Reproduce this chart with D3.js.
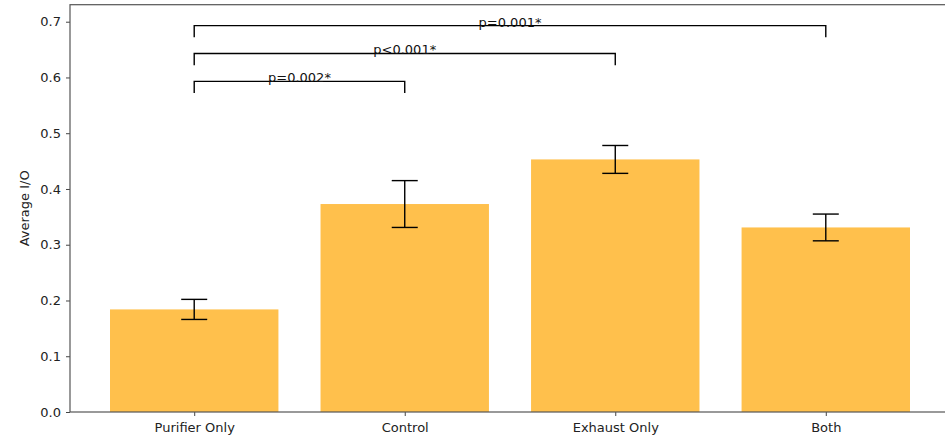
<!DOCTYPE html>
<html><head><meta charset="utf-8">
<script src="https://cdn.jsdelivr.net/npm/d3@7"></script>
<style>body{margin:0;background:#fff;overflow:hidden;} svg{display:block;font-family:"DejaVu Sans",sans-serif;}</style>
</head><body>
<svg id="c" width="945" height="436"></svg>
<script>
const categories = ["Purifier Only", "Control", "Exhaust Only", "Both"];
const means = [0.184, 0.373, 0.453, 0.331];
const errors = [0.018, 0.042, 0.025, 0.024];
const yTicks = [0.0, 0.1, 0.2, 0.3, 0.4, 0.5, 0.6, 0.7];
const comparisons = [
  {from: "Purifier Only", to: "Control", y: 0.593, label: "p=0.002*"},
  {from: "Purifier Only", to: "Exhaust Only", y: 0.643, label: "p<0.001*"},
  {from: "Purifier Only", to: "Both", y: 0.693, label: "p=0.001*"}
];
const bracketDrop = 0.021;

(function(){
const svg = d3.select("#c");
const mLeft = 70, mRight = 950, mTop = 4.7, mBottom = 412;

const x = d3.scaleLinear().domain([-0.59, 3.59]).range([mLeft, mRight]);
const y = d3.scaleLinear().domain([0, 0.7305]).range([mBottom, mTop]);
const barW = 0.8;
const idx = c => categories.indexOf(c);

svg.append("g").selectAll("rect").data(categories).join("rect")
  .attr("x", (d,i) => x(i - barW/2))
  .attr("width", (d,i) => x(i + barW/2) - x(i - barW/2))
  .attr("y", (d,i) => y(means[i]))
  .attr("height", (d,i) => y(0) - y(means[i]))
  .attr("fill", "#FFC04C");

const eg = svg.append("g").attr("stroke", "#000").attr("stroke-width", 1.4);
categories.forEach((c,i) => {
  const cx = x(i);
  eg.append("line").attr("x1", cx).attr("x2", cx).attr("y1", y(means[i]-errors[i])).attr("y2", y(means[i]+errors[i]));
  [means[i]-errors[i], means[i]+errors[i]].forEach(v => {
    eg.append("line").attr("x1", cx-13).attr("x2", cx+13).attr("y1", y(v)).attr("y2", y(v));
  });
});

const bg = svg.append("g");
comparisons.forEach(cmp => {
  const x1 = x(idx(cmp.from)), x2 = x(idx(cmp.to));
  bg.append("path")
    .attr("d", `M${x1},${y(cmp.y - bracketDrop)}V${y(cmp.y)}H${x2}V${y(cmp.y - bracketDrop)}`)
    .attr("fill", "none").attr("stroke", "#000").attr("stroke-width", 1.4);
  bg.append("text").attr("x", (x1+x2)/2).attr("y", y(cmp.y) + 1)
    .attr("text-anchor", "middle").attr("font-size", 13).attr("fill", "#111").text(cmp.label);
});

const xAxis = d3.axisBottom(x).tickValues(d3.range(categories.length)).tickFormat(i => categories[i]).tickSize(4).tickPadding(7);
const yAxis = d3.axisLeft(y).tickValues(yTicks).tickFormat(d3.format(".1f")).tickSize(4).tickPadding(5);
const gx = svg.append("g").attr("transform", `translate(0,${mBottom})`).call(xAxis);
const gy = svg.append("g").attr("transform", `translate(${mLeft},0)`).call(yAxis);
[gx, gy].forEach(g => {
  g.select(".domain").remove();
  g.selectAll(".tick line").attr("stroke", "#444");
  g.selectAll(".tick text").attr("font-size", 13).attr("fill", "#222").attr("font-family", "DejaVu Sans");
});

svg.append("rect").attr("x", mLeft).attr("y", mTop).attr("width", mRight-mLeft).attr("height", mBottom-mTop)
  .attr("fill", "none").attr("stroke", "#555").attr("stroke-width", 1.2);

svg.append("text").attr("transform", `translate(29,${(mTop+mBottom)/2}) rotate(-90)`)
  .attr("text-anchor", "middle").attr("font-size", 13).attr("fill", "#222").text("Average I/O");
})();
</script>
</body></html>
